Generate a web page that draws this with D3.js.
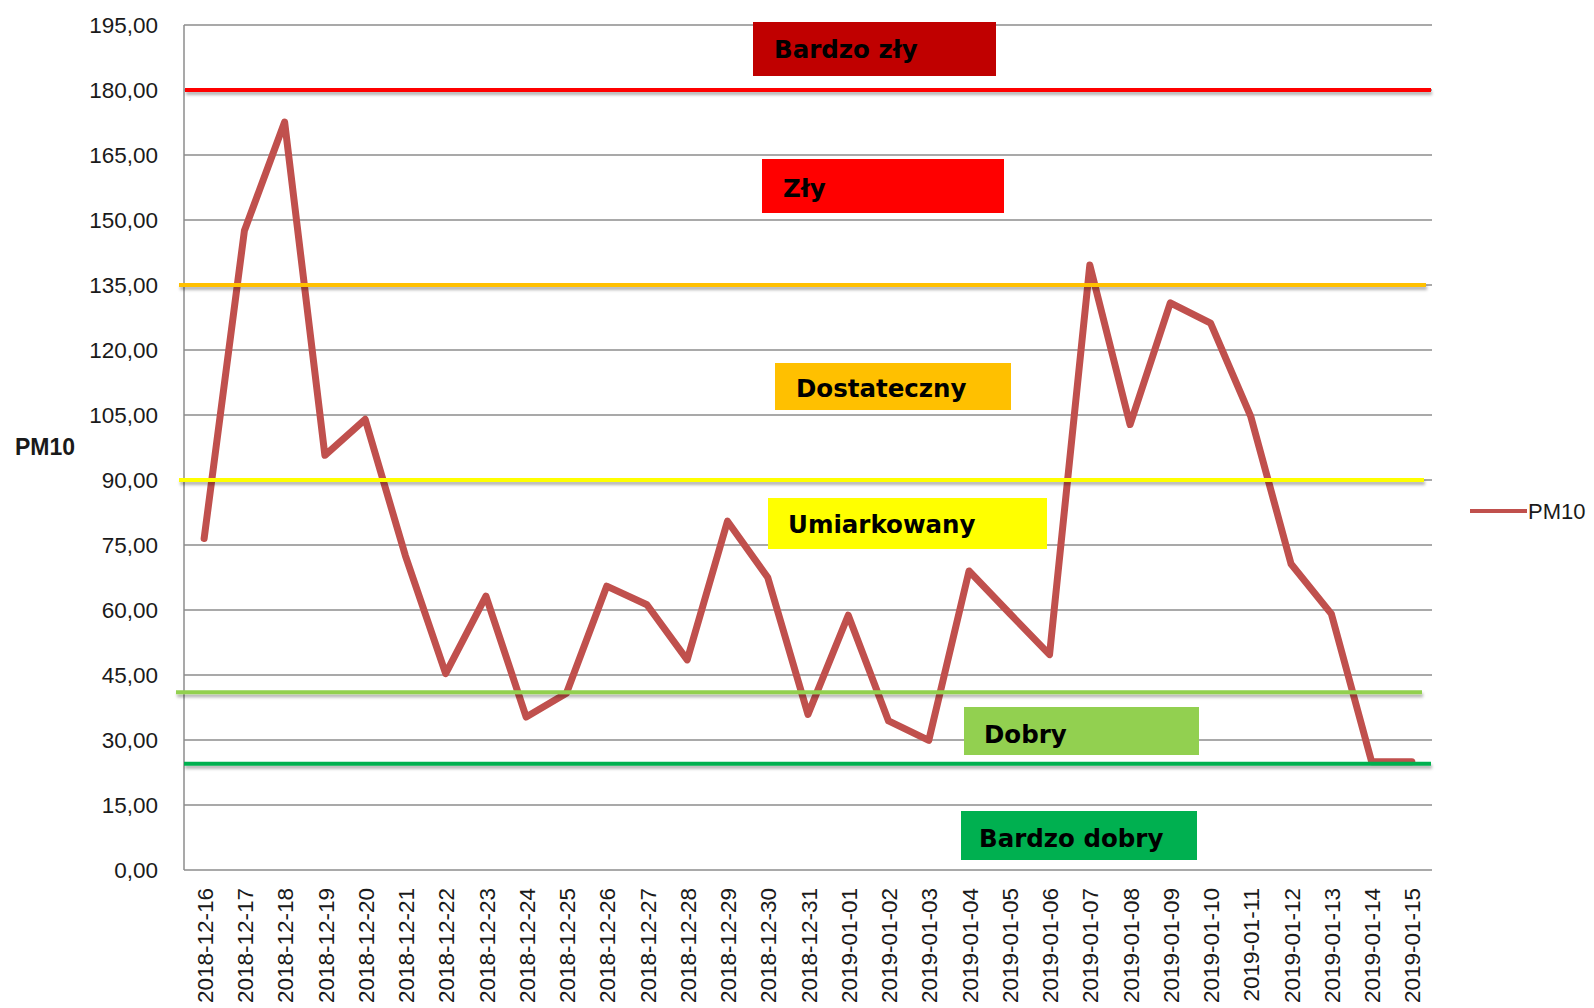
<!DOCTYPE html>
<html>
<head>
<meta charset="utf-8">
<script src="https://cdn.jsdelivr.net/npm/d3@7/dist/d3.min.js"></script>
<style>
  html, body { margin: 0; padding: 0; background: #ffffff; }
  svg { display: block; }
</style>
</head>
<body>
<svg id="chart" width="1594" height="1008"></svg>
<script>
// ---------------- DATA ----------------
const dates = [
  "2018-12-16","2018-12-17","2018-12-18","2018-12-19","2018-12-20","2018-12-21",
  "2018-12-22","2018-12-23","2018-12-24","2018-12-25","2018-12-26","2018-12-27",
  "2018-12-28","2018-12-29","2018-12-30","2018-12-31","2019-01-01","2019-01-02",
  "2019-01-03","2019-01-04","2019-01-05","2019-01-06","2019-01-07","2019-01-08",
  "2019-01-09","2019-01-10","2019-01-11","2019-01-12","2019-01-13","2019-01-14",
  "2019-01-15"
];
const pm10 = [
  76.5, 147.5, 172.6, 95.7, 104.0, 72.5,
  45.3, 63.2, 35.3, 40.8, 65.5, 61.2,
  48.5, 80.5, 67.5, 35.9, 58.8, 34.4,
  29.9, 69.0, 59.3, 49.7, 139.6, 102.8,
  130.9, 126.2, 104.6, 70.6, 59.1, 25.0,
  25.0
];
const yTickValues = [0, 15, 30, 45, 60, 75, 90, 105, 120, 135, 150, 165, 180, 195];
const seriesName = "PM10";
const axisTitle = "PM10";

// threshold lines (value levels)
const thresholdValues = [180, 135, 90, 41, 24.5];
const thresholdColors = ["#ff0000", "#ffc000", "#ffff00", "#92d050", "#00b050"];

// category label boxes
const bandLabels = ["Bardzo zły", "Zły", "Dostateczny", "Umiarkowany", "Dobry", "Bardzo dobry"];
const bandColors = ["#c00000", "#ff0000", "#ffc000", "#ffff00", "#92d050", "#00b050"];

// ---------------- LAYOUT ----------------
const plot = { left: 184, right: 1432, top: 25, bottom: 870 };
// horizontal pixel extents of the threshold lines
const thresholdExtents = [[185, 1431], [179, 1426], [179, 1424], [176, 1422], [184, 1431]];
// label boxes: x0, y0, x1, y1, text x, text baseline
const boxLayout = [
  [753, 22, 996, 76, 774, 58],
  [762, 159, 1004, 213, 783, 197],
  [775, 363, 1011, 410, 796, 397],
  [768, 498, 1047, 549, 788, 533],
  [964, 707, 1199, 755, 984, 743],
  [961, 811, 1197, 860, 979, 847]
];

const svg = d3.select("#chart");

const defs = svg.append("defs");
const f = defs.append("filter").attr("id", "shadow")
  .attr("filterUnits", "userSpaceOnUse")
  .attr("x", 0).attr("y", 0).attr("width", 1594).attr("height", 1008);
f.append("feDropShadow").attr("dx", 1).attr("dy", 3).attr("stdDeviation", 1.6)
  .attr("flood-color", "#000").attr("flood-opacity", 0.3);

const x = d3.scalePoint().domain(dates).range([plot.left, plot.right]).padding(0.5);
const y = d3.scaleLinear().domain([0, 195]).range([plot.bottom, plot.top]);

const fmt = v => v.toFixed(2).replace(".", ",");

// gridlines
svg.append("g").selectAll("line").data(yTickValues).join("line")
  .attr("x1", plot.left).attr("x2", plot.right)
  .attr("y1", d => y(d)).attr("y2", d => y(d))
  .attr("stroke", "#8c8c8c").attr("stroke-width", 1.5);

// vertical axis line
svg.append("line")
  .attr("x1", plot.left).attr("x2", plot.left)
  .attr("y1", y(195)).attr("y2", y(0))
  .attr("stroke", "#8c8c8c").attr("stroke-width", 1.5);

// y axis labels
const yAxis = d3.axisLeft(y).tickValues(yTickValues).tickFormat(fmt).tickSize(0).tickPadding(0);
const gy = svg.append("g").attr("transform", `translate(158,0)`).call(yAxis);
gy.select(".domain").remove();
gy.selectAll("text")
  .attr("font-family", "'Liberation Sans', Arial, sans-serif")
  .attr("font-size", 22.5).attr("fill", "#1a1a1a");

// x axis labels
const xAxis = d3.axisBottom(x).tickSize(0).tickPadding(0);
const gx = svg.append("g").attr("transform", `translate(0,${plot.bottom})`).call(xAxis);
gx.select(".domain").remove();
gx.selectAll("text")
  .attr("font-family", "'Liberation Sans', Arial, sans-serif")
  .attr("font-size", 22.5).attr("fill", "#1a1a1a")
  .attr("text-anchor", "end")
  .attr("transform", "rotate(-90)")
  .attr("x", -18).attr("y", 0).attr("dy", "0.36em");

// axis title
svg.append("text")
  .attr("x", 15).attr("y", 455)
  .attr("font-family", "'Liberation Sans', Arial, sans-serif")
  .attr("font-weight", "bold").attr("font-size", 23).attr("fill", "#1a1a1a")
  .text(axisTitle);

// series line
const line = d3.line().x((d, i) => x(dates[i])).y(d => y(d));
svg.append("path").datum(pm10)
  .attr("d", line)
  .attr("fill", "none")
  .attr("stroke", "#c0504d").attr("stroke-width", 7)
  .attr("stroke-linejoin", "round").attr("stroke-linecap", "round");

// threshold lines (drawn over the series)
svg.append("g").attr("filter", "url(#shadow)")
  .selectAll("line").data(thresholdValues).join("line")
  .attr("x1", (d, i) => thresholdExtents[i][0])
  .attr("x2", (d, i) => thresholdExtents[i][1])
  .attr("y1", d => y(d)).attr("y2", d => y(d))
  .attr("stroke", (d, i) => thresholdColors[i])
  .attr("stroke-width", 4);

// label boxes
const boxes = svg.append("g").selectAll("g").data(bandLabels).join("g");
boxes.append("rect")
  .attr("x", (d, i) => boxLayout[i][0]).attr("y", (d, i) => boxLayout[i][1])
  .attr("width", (d, i) => boxLayout[i][2] - boxLayout[i][0])
  .attr("height", (d, i) => boxLayout[i][3] - boxLayout[i][1])
  .attr("fill", (d, i) => bandColors[i]);
boxes.append("text")
  .attr("x", (d, i) => boxLayout[i][4]).attr("y", (d, i) => boxLayout[i][5])
  .attr("font-family", "'DejaVu Sans', Verdana, sans-serif")
  .attr("font-weight", "bold").attr("font-size", 24.5).attr("fill", "#000")
  .text(d => d);

// legend
const lg = svg.append("g");
lg.append("line").attr("x1", 1470).attr("x2", 1527).attr("y1", 511).attr("y2", 511)
  .attr("stroke", "#c0504d").attr("stroke-width", 4);
lg.append("text").attr("x", 1528).attr("y", 519)
  .attr("font-family", "'Liberation Sans', Arial, sans-serif")
  .attr("font-size", 22).attr("fill", "#1a1a1a")
  .text(seriesName);
</script>
</body>
</html>
